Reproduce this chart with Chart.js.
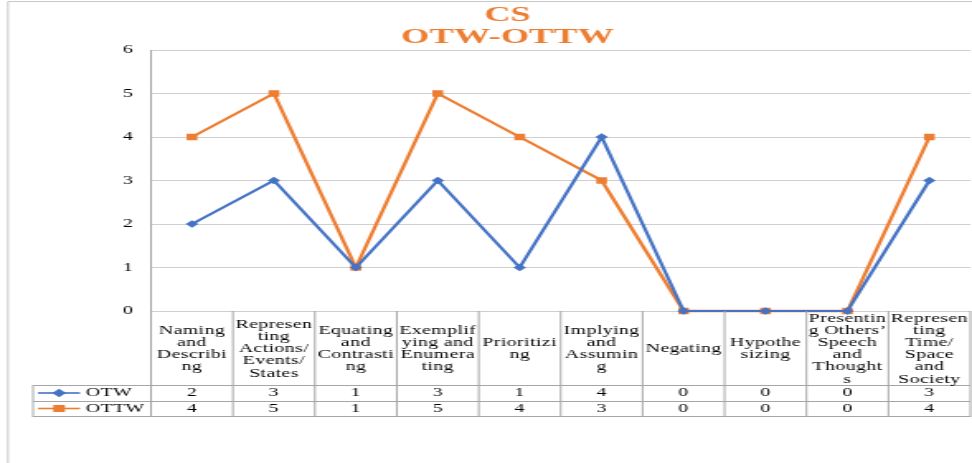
<!DOCTYPE html>
<html>
<head>
<meta charset="utf-8">
<script src="https://cdn.jsdelivr.net/npm/chart.js@4.4.1/dist/chart.umd.min.js"></script>
<style>
  html, body { margin: 0; padding: 0; background: #fff; overflow: hidden; }
  #c { display: block; }
</style>
</head>
<body>
<!-- the reference is stretched sideways, so the canvas is drawn narrow and widened -->
<canvas id="c" width="589" height="463" style="width:972px;height:463px"></canvas>
<script>
  "use strict";

  var CATEGORIES = [
    ["Naming", "and", "Describi", "ng"],
    ["Represen", "ting", "Actions/", "Events/", "States"],
    ["Equating", "and", "Contrasti", "ng"],
    ["Exemplif", "ying and", "Enumera", "ting"],
    ["Prioritizi", "ng"],
    ["Implying", "and", "Assumin", "g"],
    ["Negating"],
    ["Hypothe", "sizing"],
    ["Presentin", "g Others\u2019", "Speech", "and", "Thought", "s"],
    ["Represen", "ting", "Time/", "Space", "and", "Society"]
  ];
  var OTW = [2, 3, 1, 3, 1, 4, 0, 0, 0, 3];
  var OTTW = [4, 5, 1, 5, 4, 3, 0, 0, 0, 4];
  var Y_TICKS = [0, 1, 2, 3, 4, 5, 6];

  var BLUE = "#4472C4", ORANGE = "#ED7D31";
  var SERIF = "'Liberation Serif', 'Times New Roman', serif";
  var LINE = "#a6a6a6";

  function marker(ctx, style, x, y, r, color) {
    ctx.save();
    ctx.fillStyle = color;
    ctx.beginPath();
    if (style === "rectRot") {
      ctx.moveTo(x, y - r); ctx.lineTo(x + r, y); ctx.lineTo(x, y + r); ctx.lineTo(x - r, y);
    } else {
      var s = r * Math.SQRT1_2;
      ctx.rect(x - s, y - s, 2 * s, 2 * s);
    }
    ctx.closePath();
    ctx.fill();
    ctx.restore();
  }

  var tablePlugin = {
    id: "dataTable",
    beforeDraw: function (chart) {
      var ctx = chart.ctx;
      ctx.save();
      ctx.strokeStyle = "#c8c8c8";
      ctx.lineWidth = 1;
      ctx.beginPath();
      ctx.moveTo(4.85, 463); ctx.lineTo(4.85, 1.5); ctx.lineTo(chart.width, 1.5);
      ctx.stroke();
      ctx.restore();
    },
    afterDraw: function (chart) {
      var ctx = chart.ctx, area = chart.chartArea, xs = chart.scales.x;
      var half = (xs.getPixelForValue(1) - xs.getPixelForValue(0)) / 2;
      var top = area.bottom;
      var r1 = top + 74, r2 = top + 90, r3 = top + 105;
      var legendLeft = area.left - 71.5;
      var right = xs.getPixelForValue(CATEGORIES.length - 1) + half;

      ctx.save();
      ctx.strokeStyle = LINE;
      ctx.lineWidth = 1;
      ctx.beginPath();
      [r1, r2, r3].forEach(function (y) {
        ctx.moveTo(legendLeft, y + 0.5); ctx.lineTo(right, y + 0.5);
      });
      ctx.moveTo(legendLeft, r1); ctx.lineTo(legendLeft, r3 + 1);
      for (var i = 0; i <= CATEGORIES.length; i++) {
        var bx = xs.getPixelForValue(0) - half + i * 2 * half;
        ctx.moveTo(bx, top); ctx.lineTo(bx, r3 + 1);
      }
      ctx.stroke();

      ctx.fillStyle = "#000";
      ctx.font = "12px " + SERIF;
      ctx.letterSpacing = "0.25px";
      ctx.textAlign = "center";
      ctx.textBaseline = "middle";
      chart.data.labels.forEach(function (lines, i) {
        var cx = xs.getPixelForValue(i);
        var lh = 12.2;
        var y0 = top + 38 - (lines.length - 1) * lh / 2;
        lines.forEach(function (t, k) { ctx.fillText(t, cx, y0 + k * lh); });
      });

      var rowY = [top + 82, top + 97.5];
      chart.data.datasets.forEach(function (ds, d) {
        var y = rowY[d];
        ds.data.forEach(function (v, i) {
          ctx.fillText(String(v), xs.getPixelForValue(i), y);
        });
        ctx.strokeStyle = ds.borderColor;
        ctx.lineWidth = 1.6;
        ctx.beginPath();
        ctx.moveTo(legendLeft + 3, y); ctx.lineTo(legendLeft + 28.5, y);
        ctx.stroke();
        marker(ctx, ds.pointStyle, legendLeft + 15.8, y, ds.pointRadius + 0.4, ds.backgroundColor);
        ctx.textAlign = "left";
        ctx.fillText(ds.label, legendLeft + 32, y);
        ctx.textAlign = "center";
      });
      ctx.restore();
    }
  };

  new Chart(document.getElementById("c"), {
    type: "line",
    data: {
      labels: CATEGORIES,
      datasets: [
        {
          label: "OTW", data: OTW,
          borderColor: BLUE, backgroundColor: BLUE, borderWidth: 2.2,
          pointStyle: "rectRot", pointRadius: 3.8, pointBackgroundColor: BLUE, pointBorderWidth: 0,
          tension: 0, clip: false
        },
        {
          label: "OTTW", data: OTTW,
          borderColor: ORANGE, backgroundColor: ORANGE, borderWidth: 2.3,
          pointStyle: "rect", pointRadius: 4.6, pointBackgroundColor: ORANGE, pointBorderWidth: 0,
          tension: 0, clip: false
        }
      ]
    },
    options: {
      responsive: false,
      animation: false,
      devicePixelRatio: 1,
      layout: { autoPadding: false, padding: { left: 27, right: 1, top: 0, bottom: 152 } },
      plugins: {
        legend: { display: false },
        tooltip: { enabled: false },
        title: {
          display: true,
          text: ["CS", "OTW-OTTW"],
          color: ORANGE,
          font: { family: SERIF, size: 22, weight: "bold", lineHeight: 1 },
          padding: { top: 4, bottom: 2 }
        }
      },
      scales: {
        x: { display: false, offset: true },
        y: {
          min: 0, max: 6,
          afterFit: function (s) { s.width = 64.5; },
          afterBuildTicks: function (s) { s.ticks = Y_TICKS.map(function (v) { return { value: v }; }); },
          ticks: { color: "#000", padding: 11, font: { family: SERIF, size: 12 } },
          grid: { color: "#cfcfcf", drawTicks: false },
          border: { display: true, color: LINE }
        }
      }
    },
    plugins: [tablePlugin]
  });
</script>
</body>
</html>
